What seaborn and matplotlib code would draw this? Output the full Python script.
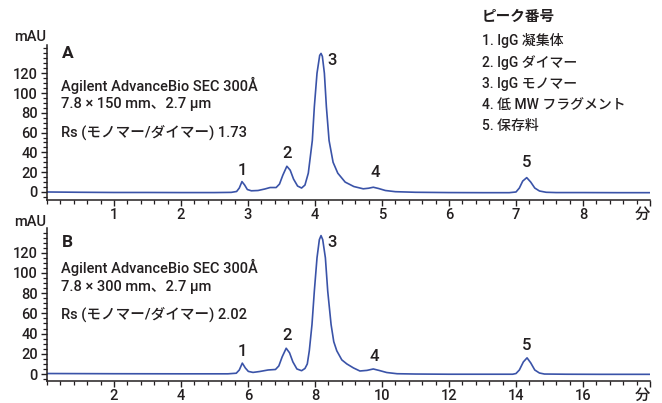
import matplotlib
matplotlib.use("Agg")
import matplotlib.pyplot as plt
import seaborn as sns
import pandas as pd
from matplotlib.ticker import MultipleLocator

# ---------------- data ----------------
time_a = [0.0, 0.5, 1.0, 1.5, 2.0, 2.5, 2.75, 2.83, 2.87, 2.91, 2.95, 2.99, 3.05, 3.15,
          3.25, 3.33, 3.42, 3.47, 3.52, 3.58, 3.63, 3.68, 3.74, 3.80, 3.85, 3.90, 3.96,
          3.99, 4.03, 4.07, 4.09, 4.11, 4.14, 4.17, 4.21, 4.27, 4.34, 4.45, 4.58, 4.72,
          4.80, 4.87, 4.95, 5.05, 5.20, 5.50, 6.00, 6.50, 6.90, 7.00, 7.05, 7.10, 7.16,
          7.22, 7.28, 7.35, 7.45, 7.60, 8.00, 8.50, 9.00]
mau_a = [0.0, -0.3, -0.5, -0.5, -0.6, -0.6, -0.4, 0.5, 4.0, 10.5, 7.0, 2.5, 1.2, 1.5,
         3.0, 4.5, 4.5, 8.0, 17.0, 26.0, 22.0, 13.0, 6.0, 4.0, 7.0, 19.0, 52.0,
         86.0, 120.0, 138.0, 140.0, 137.0, 120.0, 86.0, 52.0, 30.0, 19.0, 10.0, 5.5, 3.2,
         3.8, 4.8, 3.5, 1.5, 0.3, -0.3, -0.6, -0.7, -0.7, 0.0, 4.0, 11.0, 14.5,
         10.0, 4.0, 1.0, -0.3, -0.6, -0.6, -0.7, -0.7]

time_b = [0.0, 2.0, 4.0, 5.4, 5.65, 5.74, 5.83, 5.92, 6.01, 6.15, 6.35, 6.60, 6.82, 6.92,
          7.02, 7.14, 7.24, 7.34, 7.46, 7.60, 7.70, 7.77, 7.83, 7.91, 7.98, 8.06, 8.13,
          8.18, 8.23, 8.31, 8.38, 8.48, 8.56, 8.65, 8.80, 8.95, 9.15, 9.34, 9.55, 9.74,
          9.92, 10.14, 10.45, 11.0, 12.0, 13.0, 13.9, 14.0, 14.1, 14.22, 14.33, 14.44,
          14.56, 14.70, 14.85, 15.5, 16.5, 18.0]
mau_b = [0.5, 0.3, 0.2, 0.2, 0.8, 4.0, 10.8, 6.0, 2.6, 1.6, 2.5, 4.0, 4.5, 8.0,
         17.0, 25.5, 21.0, 12.0, 5.0, 3.3, 5.5, 10.0, 23.0, 49.0, 82.0, 115.0, 133.0,
         137.0, 133.0, 115.0, 82.0, 49.0, 32.0, 23.0, 14.0, 10.0, 6.0, 3.0, 3.6, 5.0,
         3.5, 1.5, 0.3, 0.0, -0.2, -0.2, -0.2, 0.5, 4.0, 12.0, 16.0, 11.0,
         4.0, 1.0, 0.0, -0.2, -0.3, -0.3]

peak_ids = ["1", "2", "3", "4", "5"]
peak_label_t_a = [2.92, 3.58, 4.25, 4.90, 7.16]
peak_label_y_a = [22, 39, 133, 20, 30]
peak_label_t_b = [5.82, 7.16, 8.50, 9.76, 14.33]
peak_label_y_b = [22.5, 38, 130, 17.5, 28.5]

yticks = [0, 20, 40, 60, 80, 100, 120]
xticks_a = [1, 2, 3, 4, 5, 6, 7, 8, 9]
xticks_b = [2, 4, 6, 8, 10, 12, 14, 16, 18]
unit_label = "分"

info_a = ["Agilent AdvanceBio SEC 300Å", "7.8 × 150 mm、2.7 μm", "Rs (モノマー/ダイマー) 1.73"]
info_b = ["Agilent AdvanceBio SEC 300Å", "7.8 × 300 mm、2.7 μm", "Rs (モノマー/ダイマー) 2.02"]
legend_title = "ピーク番号"
legend_items = ["1. IgG 凝集体", "2. IgG ダイマー", "3. IgG モノマー",
                "4. 低 MW フラグメント", "5. 保存料"]

# ---------------- style ----------------
sns.set_theme(style="ticks")
plt.rcParams["font.family"] = ["Roboto", "Noto Sans CJK JP", "DejaVu Sans"]
plt.rcParams["font.weight"] = "medium"
plt.rcParams["text.color"] = "#231f20"
LINE = "#3a53a8"
TXT = "#231f20"

W, H = 662, 403
fig = plt.figure(figsize=(W / 100, H / 100), dpi=100)

def px_ax(l, t, r, b):
    return [l / W, (H - b) / H, (r - l) / W, (b - t) / H]

ax_a = fig.add_axes(px_ax(47, 45, 650, 200))
ax_b = fig.add_axes(px_ax(47, 228, 650, 381))

df_a = pd.DataFrame({"t": time_a, "mAU": mau_a})
df_b = pd.DataFrame({"t": time_b, "mAU": mau_b})
sns.lineplot(data=df_a, x="t", y="mAU", ax=ax_a, color=LINE, linewidth=1.2, estimator=None)
sns.lineplot(data=df_b, x="t", y="mAU", ax=ax_b, color=LINE, linewidth=1.2, estimator=None)

def style_axis(ax, xmax, xticks, xminor, ylim):
    ax.set_xlim(0, xmax)
    ax.set_ylim(*ylim)
    for s in ["top", "right"]:
        ax.spines[s].set_visible(False)
    for s in ["left", "bottom"]:
        ax.spines[s].set_linewidth(1.1)
        ax.spines[s].set_color(TXT)
    ax.set_xlabel("")
    ax.set_ylabel("")
    ax.set_yticks(yticks)
    ax.set_yticklabels([str(v) for v in yticks])
    ax.yaxis.set_minor_locator(MultipleLocator(5))
    ax.set_xticks(xticks)
    ax.set_xticklabels([str(v) for v in xticks[:-1]] + [unit_label])
    ax.xaxis.set_minor_locator(MultipleLocator(xminor))
    ax.tick_params(axis="both", which="major", length=4.5, width=1.0, color=TXT,
                   labelsize=10.5, labelcolor=TXT, pad=2)
    ax.tick_params(axis="both", which="minor", length=3, width=0.9, color=TXT)
    ax.tick_params(axis="x", which="major", pad=1.5)
    for lab in ax.get_xticklabels() + ax.get_yticklabels():
        lab.set_fontweight("medium")
    lab = ax.get_xticklabels()[-1]
    lab.set_ha("right")
    lab.set_fontsize(11)
    ax.grid(False)
    ax.set_facecolor("white")

style_axis(ax_a, 9, xticks_a, 0.2, (-8.1, 148.5))
style_axis(ax_b, 18, xticks_b, 0.4, (-6.9, 144.5))

# peak labels
for lab, t, y in zip(peak_ids, peak_label_t_a, peak_label_y_a):
    ax_a.text(t, y, lab, ha="center", va="center", fontsize=12, color=TXT, fontweight="medium")
for lab, t, y in zip(peak_ids, peak_label_t_b, peak_label_y_b):
    ax_b.text(t, y, lab, ha="center", va="center", fontsize=12, color=TXT, fontweight="medium")

# panel letters and info text (axes fraction)
def panel_text(ax, letter, lines, ys):
    ax.text(0.025, ys[0], letter, transform=ax.transAxes, ha="left", va="center",
            fontsize=12.5, fontweight="bold", color=TXT)
    for line, y in zip(lines, ys[1:]):
        ax.text(0.023, y, line, transform=ax.transAxes, ha="left", va="center",
                fontsize=10.5, color=TXT, fontweight="medium")

panel_text(ax_a, "A", info_a, [0.942, 0.742, 0.619, 0.439])
panel_text(ax_b, "B", info_b, [0.903, 0.740, 0.617, 0.435])

# mAU labels
fig.text(14 / W, 1 - 37 / H, "mAU", ha="left", va="center", fontsize=10.5, color=TXT,
         fontweight="medium")
fig.text(14 / W, 1 - 222 / H, "mAU", ha="left", va="center", fontsize=10.5, color=TXT,
         fontweight="medium")

# legend block
fig.text(482 / W, 1 - 17 / H, legend_title, ha="left", va="center", fontsize=10.5,
         fontweight="bold", color=TXT)
for i, item in enumerate(legend_items):
    fig.text(482 / W, 1 - (41 + 21.3 * i) / H, item, ha="left", va="center",
             fontsize=10, color=TXT, fontweight="medium")

fig.savefig("out.png", dpi=100, facecolor="white")
